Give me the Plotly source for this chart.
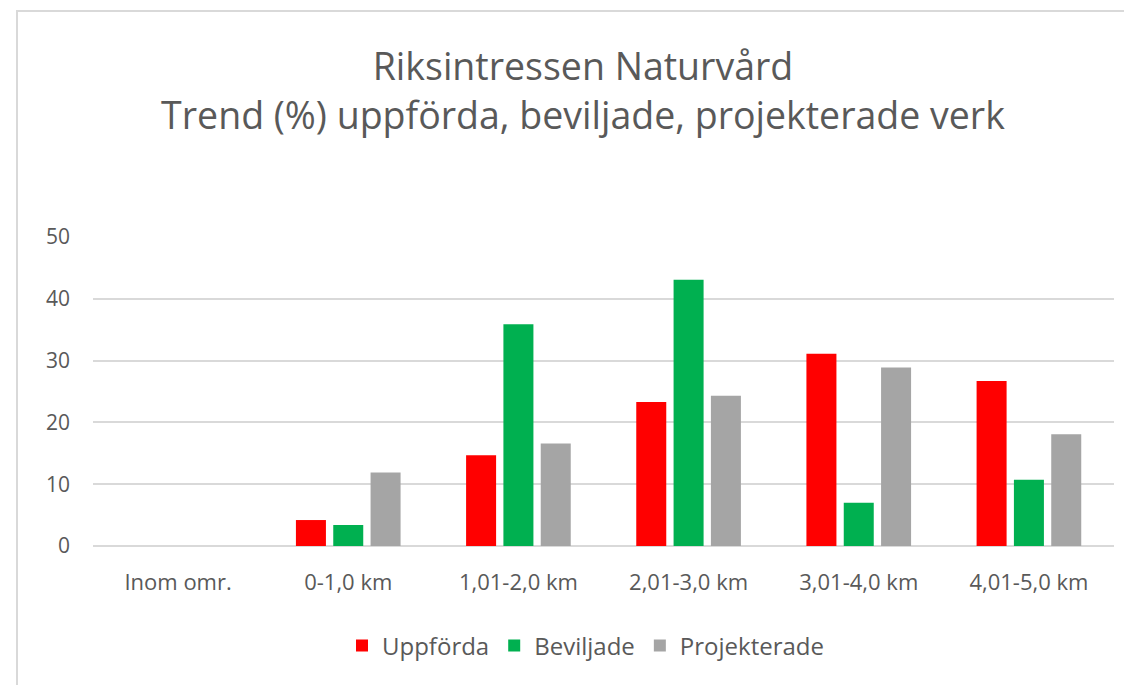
import plotly.graph_objects as go

categories = ["Inom omr.", "0-1,0 km", "1,01-2,0 km", "2,01-3,0 km", "3,01-4,0 km", "4,01-5,0 km"]
uppforda = [0, 4.2, 14.7, 23.3, 31.1, 26.7]
beviljade = [0, 3.4, 35.9, 43.1, 7.0, 10.7]
projekterade = [0, 11.9, 16.6, 24.3, 28.9, 18.1]
y_ticks = [0, 10, 20, 30, 40, 50]

FONT = "Open Sans"
TXT = "#595959"
OFF = 8  # page body margin offset

fig = go.Figure()
for name, vals, col in [("Uppförda", uppforda, "#FF0000"),
                        ("Beviljade", beviljade, "#00B050"),
                        ("Projekterade", projekterade, "#A5A5A5")]:
    fig.add_trace(go.Bar(x=categories, y=vals, name=name,
                         marker=dict(color=col, line=dict(width=0))))

FW, FH = 1132 - OFF, 685 - OFF
L = 93 - OFF
T = 237 - OFF
PR = 1114 - OFF
PB = 546 - OFF
R = FW - PR
B = FH - PB
W = PR - L
H = PB - T

def py(y):  # screen y -> paper y
    return (PB - (y - OFF)) / H

def px(x):
    return ((x - OFF) - L) / W

fig.update_layout(
    width=FW, height=FH,
    margin=dict(l=L, r=R, t=T, b=B, pad=0),
    paper_bgcolor="white", plot_bgcolor="white",
    barmode="group", bargap=0.342, bargroupgap=0.196,
    font=dict(family=FONT, color=TXT, size=21),
    title=dict(text="Riksintressen Naturvård<br>Trend (%) uppförda, beviljade, projekterade verk",
               x=px(583), xref="paper", xanchor="center",
               y=1 - 72 / FH, yref="container", yanchor="middle",
               font=dict(family=FONT, size=37.5, color=TXT)),
    legend=dict(orientation="h", x=px(586), xanchor="center",
                y=py(646), yanchor="middle",
                font=dict(size=24, color=TXT), itemwidth=30,
                traceorder="normal"),
    xaxis=dict(showgrid=False, showline=False, zeroline=False,
               tickfont=dict(size=22, color=TXT), ticklabelstandoff=21),
    yaxis=dict(range=[0, 50], tickvals=y_ticks, showgrid=True,
               gridcolor="#D9D9D9", gridwidth=2, zeroline=True,
               zerolinecolor="#D9D9D9", zerolinewidth=2, showline=False,
               tickfont=dict(size=21, color=TXT), ticklabelstandoff=22),
    shapes=[dict(type="rect", xref="paper", yref="paper",
                 x0=px(17), x1=px(1160),
                 y0=py(720), y1=py(11),
                 line=dict(color="#D9D9D9", width=2), layer="below")],
)

fig.write_html("out.html")
